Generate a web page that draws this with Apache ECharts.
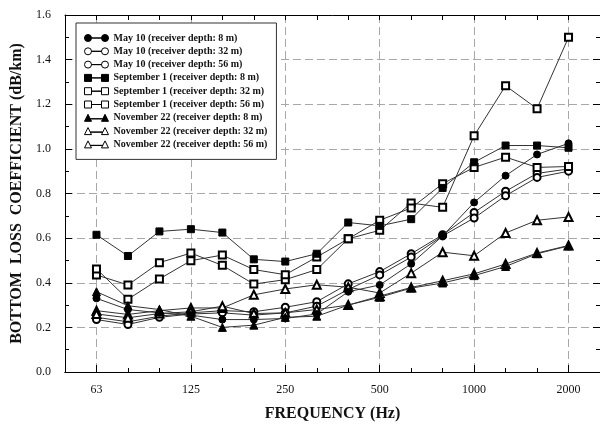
<!DOCTYPE html>
<html><head><meta charset="utf-8">
<script src="https://cdn.jsdelivr.net/npm/echarts@6/dist/echarts.min.js"></script>
<style>html,body{margin:0;padding:0;background:#fff}#c{width:600px;height:430px}</style>
</head><body><div id="c"></div>
<script>
// Axis categories (1/3-octave band centres, Hz); 50 and 2500 are the axis end bands
const axisBands = ['50','63','80','100','125','160','200','250','315','400','500','630','800','1000','1250','1600','2000','2500'];
const frequencies = ['63','80','100','125','160','200','250','315','400','500','630','800','1000','1250','1600','2000'];
const labeledBands = ['63','125','250','500','1000','2000'];

const seriesNames = [
  'May 10 (receiver depth: 8 m)',
  'May 10 (receiver depth: 32 m)',
  'May 10 (receiver depth: 56 m)',
  'September 1 (receiver depth: 8 m)',
  'September 1 (receiver depth: 32 m)',
  'September 1 (receiver depth: 56 m)',
  'November 22 (receiver depth: 8 m)',
  'November 22 (receiver depth: 32 m)',
  'November 22 (receiver depth: 56 m)'
];

const may8  = [0.33, 0.28, 0.265, 0.255, 0.235, 0.235, 0.24, 0.26, 0.36, 0.39, 0.485, 0.61, 0.76, 0.88, 0.975, 1.025];
const may32 = [0.245, 0.225, 0.25, 0.265, 0.275, 0.27, 0.29, 0.315, 0.395, 0.45, 0.53, 0.615, 0.715, 0.81, 0.89, 0.91];
const may56 = [0.235, 0.213, 0.245, 0.26, 0.265, 0.255, 0.265, 0.295, 0.37, 0.435, 0.515, 0.61, 0.69, 0.79, 0.872, 0.9];
const sep8  = [0.615, 0.52, 0.63, 0.64, 0.625, 0.505, 0.495, 0.53, 0.67, 0.655, 0.685, 0.825, 0.94, 1.015, 1.015, 1.005];
const sep32 = [0.435, 0.39, 0.49, 0.533, 0.478, 0.394, 0.414, 0.459, 0.597, 0.635, 0.757, 0.738, 1.059, 1.283, 1.18, 1.5];
const sep56 = [0.462, 0.326, 0.417, 0.499, 0.524, 0.459, 0.436, 0.515, 0.597, 0.68, 0.735, 0.844, 0.917, 0.963, 0.917, 0.921];
const nov8  = [0.36, 0.297, 0.28, 0.25, 0.2, 0.21, 0.245, 0.25, 0.3, 0.335, 0.376, 0.399, 0.432, 0.473, 0.53, 0.565];
const nov32 = [0.275, 0.258, 0.275, 0.287, 0.287, 0.346, 0.372, 0.391, 0.38, 0.354, 0.443, 0.537, 0.521, 0.623, 0.68, 0.695];
const nov56 = [0.26, 0.243, 0.262, 0.27, 0.295, 0.262, 0.265, 0.28, 0.3, 0.34, 0.379, 0.409, 0.44, 0.484, 0.533, 0.567];

const yTicks = ['0.0','0.2','0.4','0.6','0.8','1.0','1.2','1.4','1.6'];

const allValues = [may8, may32, may56, sep8, sep32, sep56, nov8, nov32, nov56];
const markerKind = ['circle','circle','circle','rect','rect','rect','triangle','triangle','triangle'];
const hollow = [false,true,true,false,true,true,false,true,true];

const FONT = '"Liberation Serif", "Times New Roman", serif';
const INK = '#111';

const legendIcons = {
  circle: 'path://M0.5,4A3.5,3.5,0,1,1,7.5,4A3.5,3.5,0,1,1,0.5,4ZM7.5,4L17.5,4ZM17.5,4A3.5,3.5,0,1,1,24.5,4A3.5,3.5,0,1,1,17.5,4Z',
  rect: 'path://M0.5,0.5L7.5,0.5L7.5,7.5L0.5,7.5ZM7.5,4L17.5,4ZM17.5,0.5L24.5,0.5L24.5,7.5L17.5,7.5Z',
  triangle: 'path://M4,0.5L7.5,7.5L0.5,7.5ZM6.3,5L18.7,5ZM21,0.5L24.5,7.5L17.5,7.5Z'
};
const symbolName = (k, h) => h ? ('empty' + k.charAt(0).toUpperCase() + k.slice(1)) : k;

const isLabeled = (idx, val) => labeledBands.indexOf(val) >= 0;
const gridDash = { type: [8, 4], color: '#a8a8a8', width: 1 };
const axisLineStyle = { color: '#000', width: 1 };

const series = seriesNames.map((name, i) => ({
  type: 'line',
  name: name,
  data: frequencies.map((f, j) => [f, allValues[i][j]]),
  symbol: symbolName(markerKind[i], hollow[i]),
  symbolSize: markerKind[i] === 'triangle' ? 8 : 7,
  lineStyle: { color: '#333', width: 1 },
  itemStyle: { color: '#000', borderColor: '#000', borderWidth: 1 },
  emphasis: { disabled: true },
  z: hollow[i] ? 3 : 4
}));

const chart = echarts.init(document.getElementById('c'), null, { renderer: 'canvas' });
chart.setOption({
  animation: false,
  backgroundColor: '#fff',
  grid: { left: 65, top: 15, width: 538, height: 357, containLabel: false },
  legend: {
    orient: 'vertical',
    left: 76, top: 23,
    z: 10,
    padding: [10, 9, 10, 8],
    backgroundColor: '#fff',
    borderColor: '#333',
    borderWidth: 1,
    itemWidth: 24, itemHeight: 7,
    itemGap: 3.3,
    selectedMode: false,
    textStyle: { fontFamily: FONT, fontWeight: 'bold', fontSize: 10, lineHeight: 10, color: INK },
    data: seriesNames.map((n, i) => ({
      name: n,
      icon: legendIcons[markerKind[i]],
      itemStyle: { color: hollow[i] ? '#fff' : '#000', borderColor: '#000', borderWidth: 1 }
    }))
  },
  xAxis: [
    {
      type: 'category', data: axisBands, boundaryGap: false, position: 'bottom',
      axisLine: { show: true, lineStyle: axisLineStyle },
      axisTick: { show: true, inside: true, length: 7, interval: isLabeled, lineStyle: axisLineStyle },
      axisLabel: { show: true, interval: isLabeled, fontFamily: FONT, fontSize: 12, color: INK, margin: 12 },
      splitLine: { show: true, interval: isLabeled, lineStyle: gridDash },
      name: 'FREQUENCY (Hz)', nameLocation: 'middle', nameGap: 34,
      nameTextStyle: { fontFamily: FONT, fontWeight: 'bold', fontSize: 16, color: INK }
    },
    {
      type: 'category', data: axisBands, boundaryGap: false, position: 'bottom',
      axisLine: { show: true, lineStyle: axisLineStyle },
      axisTick: { show: true, inside: true, length: 4, interval: 0, lineStyle: axisLineStyle },
      axisLabel: { show: false }, splitLine: { show: false }
    },
    {
      type: 'category', data: axisBands, boundaryGap: false, position: 'top',
      axisLine: { show: true, lineStyle: axisLineStyle },
      axisTick: { show: true, inside: true, length: 5, interval: 0, lineStyle: axisLineStyle },
      axisLabel: { show: false }, splitLine: { show: false }
    }
  ],
  yAxis: [
    {
      type: 'value', min: 0, max: 1.6, interval: 0.2, position: 'left',
      axisLine: { show: true, lineStyle: axisLineStyle },
      axisTick: { show: true, inside: true, length: 7, lineStyle: axisLineStyle },
      minorTick: { show: true, splitNumber: 2, length: 4, lineStyle: axisLineStyle },
      axisLabel: { formatter: (v) => yTicks[Math.round(v / 0.2)], fontFamily: FONT, fontSize: 12, color: INK, margin: 14 },
      splitLine: { show: true, lineStyle: gridDash },
      name: 'BOTTOM  LOSS  COEFFICIENT (dB/km)', nameLocation: 'middle', nameGap: 40,
      nameTextStyle: { fontFamily: FONT, fontWeight: 'bold', fontSize: 16, color: INK }
    },
    {
      type: 'value', min: 0, max: 1.6, interval: 0.2, position: 'right',
      axisLine: { show: true, lineStyle: axisLineStyle },
      axisTick: { show: true, inside: true, length: 7, lineStyle: axisLineStyle },
      minorTick: { show: true, splitNumber: 2, length: 4, lineStyle: axisLineStyle },
      axisLabel: { show: false }, splitLine: { show: false }
    }
  ],
  series: series
});
</script>
</body></html>
